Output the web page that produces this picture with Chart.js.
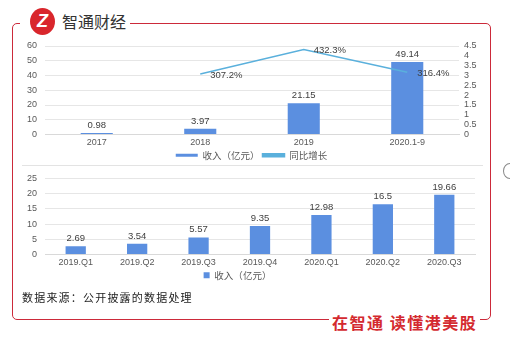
<!DOCTYPE html>
<html>
<head>
<meta charset="utf-8">
<script src="https://cdn.jsdelivr.net/npm/chart.js@4.4.0/dist/chart.umd.min.js"></script>
<style>
  html, body { margin: 0; padding: 0; background: #fff; }
  body { width: 510px; height: 338px; position: relative; overflow: hidden;
         font-family: "Liberation Sans", "Noto Sans CJK SC", sans-serif; }
  .abs { position: absolute; }
  .frame { left: 12px; top: 23px; width: 479px; height: 297px;
           border: 1.5px solid #cc2a3a; border-radius: 5px; box-sizing: border-box; }
  .gap { background: #fff; }
  .logo { left: 30px; top: 8px; width: 25px; height: 27px; border-radius: 50%; background: #d9262c;
          color: #fff; font: italic bold 18px "Liberation Sans", sans-serif; text-align: center; line-height: 27px; }
  .brand { left: 62px; top: 10px; font: 16px "Noto Sans CJK SC", sans-serif; color: #333; line-height: 22px; }
  .slogan { left: 329px; top: 311px; font: bold 16px "Noto Sans CJK SC", sans-serif; color: #d42a2f;
            line-height: 22px; letter-spacing: 1.5px; padding: 0 3px; background: #fff; }
  .source { left: 22px; top: 289px; font: 11px "Noto Sans CJK SC", sans-serif; color: #222;
            letter-spacing: 1.2px; line-height: 16px; }
  .divider { left: 22px; top: 165px; width: 461px; height: 1px; background: #e3e3e3; }
  .ring { left: 503px; top: 163px; width: 12px; height: 14px; border: 1px solid #888; border-radius: 50%; }
</style>
</head>
<body>
<div class="abs frame"></div>
<div class="abs gap" style="left:20px; top:18px; width:110px; height:10px;"></div>
<div class="abs logo">Z</div>
<div class="abs brand">智通财经</div>
<div class="abs divider"></div>
<div class="abs ring"></div>
<div class="abs" style="left:0; top:30px; width:510px; height:140px;"><canvas id="yearChart"></canvas></div>
<div class="abs" style="left:0; top:165px; width:510px; height:125px;"><canvas id="quarterChart"></canvas></div>
<div class="abs source">数据来源：公开披露的数据处理</div>
<div class="abs slogan">在智通&nbsp;读懂港美股</div>

<script>
// yearly revenue (亿元) and YoY growth
const years = ['2017', '2018', '2019', '2020.1-9'];
const revenueYear = [0.98, 3.97, 21.15, 49.14];
const growthRate = [null, 3.072, 4.323, 3.164]; // 307.2% etc, plotted on the right axis

// quarterly revenue (亿元)
const quarters = ['2019.Q1', '2019.Q2', '2019.Q3', '2019.Q4', '2020.Q1', '2020.Q2', '2020.Q3'];
const revenueQuarter = [2.69, 3.54, 5.57, 9.35, 12.98, 16.5, 19.66];

const barBlue = '#5b8fe0';
const lineBlue = '#5ab0dc';
const tickFont = { family: '"Liberation Sans", "Noto Sans CJK SC", sans-serif', size: 9 };
const labelFont = '9.5px "Liberation Sans", sans-serif';

// value labels above bars / right of line points
const valueLabels = {
  id: 'valueLabels',
  afterDatasetsDraw(chart) {
    const ctx = chart.ctx;
    ctx.save();
    ctx.font = labelFont;
    ctx.fillStyle = '#404040';
    chart.data.datasets.forEach((ds, i) => {
      const meta = chart.getDatasetMeta(i);
      meta.data.forEach((el, j) => {
        const v = ds.data[j];
        if (v == null) return;
        if (ds.type === 'line') {
          ctx.textAlign = 'left';
          ctx.textBaseline = 'middle';
          ctx.fillText((v * 100).toFixed(1) + '%', el.x + 10, el.y + 1);
        } else {
          ctx.textAlign = 'center';
          ctx.textBaseline = 'bottom';
          ctx.fillText(String(v), el.x, el.y - 3);
        }
      });
    });
    ctx.restore();
  }
};

function fixWidth(w) { return (scale) => { scale.width = w; }; }
function fixHeight(h) { return (scale) => { scale.height = h; }; }

new Chart(document.getElementById('yearChart'), {
  data: {
    labels: years,
    datasets: [
      { type: 'bar', label: '收入（亿元）', data: revenueYear, backgroundColor: barBlue,
        yAxisID: 'y', barPercentage: 0.31, categoryPercentage: 1, order: 2 },
      { type: 'line', label: '同比增长', data: growthRate, borderColor: lineBlue, backgroundColor: lineBlue,
        borderWidth: 1.5, pointRadius: 0, yAxisID: 'y1', order: 1 }
    ]
  },
  options: {
    responsive: true, maintainAspectRatio: false, animation: false,
    layout: { padding: { top: 16, left: 4, right: 11, bottom: 0 } },
    plugins: {
      tooltip: { enabled: false },
      legend: {
        position: 'bottom',
        labels: { boxWidth: 22, boxHeight: 3, padding: 3, color: '#595959',
                  sort: (a, b) => a.datasetIndex - b.datasetIndex,
                  font: { family: '"Noto Sans CJK SC", sans-serif', size: 9.5 } }
      }
    },
    scales: {
      x: { grid: { display: false, drawTicks: false }, border: { color: '#d9d9d9' },
           ticks: { color: '#595959', font: tickFont, padding: 3, maxRotation: 0 },
           afterFit: fixHeight(13) },
      y: { position: 'left', min: 0, max: 60, border: { display: false },
           grid: { color: '#e6e6e6', drawTicks: false },
           ticks: { stepSize: 10, color: '#595959', font: tickFont, padding: 8 },
           afterFit: fixWidth(41) },
      y1: { position: 'right', min: 0, max: 4.5, border: { display: false },
            grid: { display: false, drawTicks: false },
            ticks: { stepSize: 0.5, autoSkip: false, color: '#595959', font: tickFont, padding: 5,
                     callback: (v) => String(+v.toFixed(1)) },
            afterFit: fixWidth(40) }
    }
  },
  plugins: [valueLabels]
});

new Chart(document.getElementById('quarterChart'), {
  type: 'bar',
  data: {
    labels: quarters,
    datasets: [
      { label: '收入（亿元）', data: revenueQuarter, backgroundColor: barBlue,
        barPercentage: 0.33, categoryPercentage: 1 }
    ]
  },
  options: {
    responsive: true, maintainAspectRatio: false, animation: false,
    layout: { padding: { top: 7, left: 0, right: 35, bottom: 0 } },
    plugins: {
      tooltip: { enabled: false },
      legend: {
        position: 'bottom',
        labels: { boxWidth: 6, boxHeight: 6, padding: 3, color: '#595959',
                  font: { family: '"Noto Sans CJK SC", sans-serif', size: 9.5 } }
      }
    },
    scales: {
      x: { grid: { display: false, drawTicks: false }, border: { color: '#d9d9d9' },
           ticks: { color: '#595959', font: tickFont, padding: 3, maxRotation: 0 },
           afterFit: fixHeight(13) },
      y: { min: 0, max: 25, border: { display: false },
           grid: { color: '#e6e6e6', drawTicks: false },
           ticks: { stepSize: 5, color: '#595959', font: tickFont, padding: 8 },
           afterFit: fixWidth(45) }
    }
  },
  plugins: [valueLabels]
});
</script>
</body>
</html>
